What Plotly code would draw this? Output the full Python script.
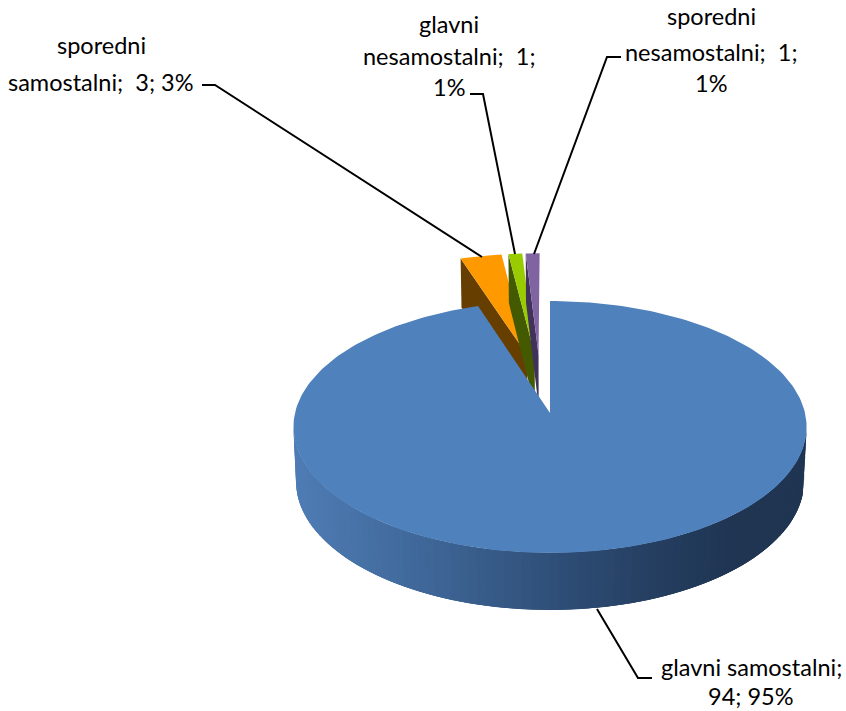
import math
import plotly.graph_objects as go

categories = ["glavni samostalni", "sporedni samostalni", "glavni nesamostalni", "sporedni nesamostalni"]
values = [94, 3, 1, 1]
percents = ["95%", "3%", "1%", "1%"]
top_colors = ["#4F81BD", "#FF9900", "#99CC00", "#8064A2"]
side_colors = ["#203550", "#663F00", "#435A00", "#40325A"]
rim_stops = [(0.0, (78, 124, 180)), (0.2, (66, 107, 158)), (0.5, (47, 79, 120)),
             (0.7, (37, 62, 96)), (0.85, (31, 53, 82)), (1.0, (31, 53, 82))]

# projection of the tilted pie onto the page (page pixels are the axis units)
OX, OY, SX, SY, P = 550, 413, 255, 124.4, 0.111
EXPLODE = 0.25
LABEL_FONT = "Lato"
LABEL_SIZE = 23.5


def project(u, v):
    d = 1 + P * v
    return OX + SX * u / d, OY - SY * v / d


def lower(u, v):
    x, y = project(u, v)
    return OX + 0.99 * (x - OX), y + 53.7 - 3.3 * v


def unit(deg):
    a = math.radians(deg)
    return math.sin(a), math.cos(a)


def arc(start, end, n):
    return [start + (end - start) * i / n for i in range(n + 1)]


def rim_color(t):
    for (t0, c0), (t1, c1) in zip(rim_stops, rim_stops[1:]):
        if t <= t1:
            f = (t - t0) / (t1 - t0)
            return "rgb(%d,%d,%d)" % tuple(round(a + (b - a) * f) for a, b in zip(c0, c1))
    return "rgb(31,53,82)"


def poly(points, color, line=0.0):
    return go.Scatter(x=[p[0] for p in points], y=[p[1] for p in points], mode="lines",
                      fill="toself", fillcolor=color, hoverinfo="skip", showlegend=False,
                      line=dict(color=color, width=line))


total = sum(values)
spans, acc = [], 0.0
for v in values:
    spans.append((acc, acc + v / total * 360))
    acc += v / total * 360
mid0 = unit(sum(spans[0]) / 2)

fig = go.Figure()
# exploded small slices, back to front
for i in range(1, len(values)):
    a, b = spans[i]
    m = unit((a + b) / 2)
    au, av = EXPLODE * (m[0] - mid0[0]), EXPLODE * (m[1] - mid0[1])
    angs = arc(a, b, 12)
    rim = [(au + unit(t)[0], av + unit(t)[1]) for t in angs]
    side = [project(*rim[0]), project(au, av), lower(au, av), lower(*rim[0])]
    fig.add_trace(poly(side, side_colors[i]))
    top = [project(au, av)] + [project(*r) for r in rim]
    fig.add_trace(poly(top, top_colors[i]))

# rim of the large slice, shaded from left to right; each band runs under the next so no seams show
lo = math.degrees(math.atan2(math.sqrt(1 - P * P), -P))
angs = arc(360 - lo, lo, 90)
x_left, x_right = project(*unit(360 - lo))[0], project(*unit(lo))[0]
for k in range(len(angs) - 1):
    a0 = angs[k]
    steps = angs[k:min(k + 4, len(angs))]
    tm = (project(*unit(a0))[0] - x_left) / (x_right - x_left)
    pts = [project(*unit(t)) for t in steps] + [lower(*unit(t)) for t in reversed(steps)]
    fig.add_trace(poly(pts, rim_color(tm)))

top = [project(0, 0)] + [project(*unit(t)) for t in arc(spans[0][0], spans[0][1], 240)]
fig.add_trace(poly(top, top_colors[0]))

# leader lines
leaders = [
    [(597, 609), (638, 678), (652, 678)],
    [(482, 257), (215, 85), (202, 85)],
    [(515, 254), (483, 94), (470, 94)],
    [(534, 254), (607, 57), (621, 57)],
]
for pts in leaders:
    fig.add_trace(go.Scatter(x=[p[0] for p in pts], y=[p[1] for p in pts], mode="lines",
                             line=dict(color="#000000", width=2), hoverinfo="skip", showlegend=False))

# data labels, line by line
nb = "\u00a0"
label_lines = [
    (751, [("glavni samostalni;", 667), (f"{values[0]};{nb}{percents[0]}", 696)]),
    (101, [("sporedni", 45), (f"samostalni;{nb}{nb}{values[1]};{nb}{percents[1]}", 82)]),
    (449, [("glavni", 24), (f"nesamostalni;{nb}{nb}{values[2]};", 56), (percents[2], 87)]),
    (711, [("sporedni", 16), (f"nesamostalni;{nb}{nb}{values[3]};", 52), (percents[3], 83)]),
]
for cx, lines in label_lines:
    for text, cy in lines:
        fig.add_annotation(x=cx, y=cy, text=text, showarrow=False, xanchor="center", yanchor="middle",
                           font=dict(family=LABEL_FONT, size=LABEL_SIZE, color="#000000"))

fig.update_layout(
    width=846, height=711, autosize=False,
    margin=dict(l=0, r=0, t=0, b=0),
    paper_bgcolor="#FFFFFF", plot_bgcolor="#FFFFFF", showlegend=False,
    xaxis=dict(range=[0, 846], visible=False, fixedrange=True),
    yaxis=dict(range=[711, 0], visible=False, fixedrange=True),
)
fig.write_html("out.html", config={"displayModeBar": False},
               post_script="document.body.style.margin='0';document.body.style.overflow='hidden';")
